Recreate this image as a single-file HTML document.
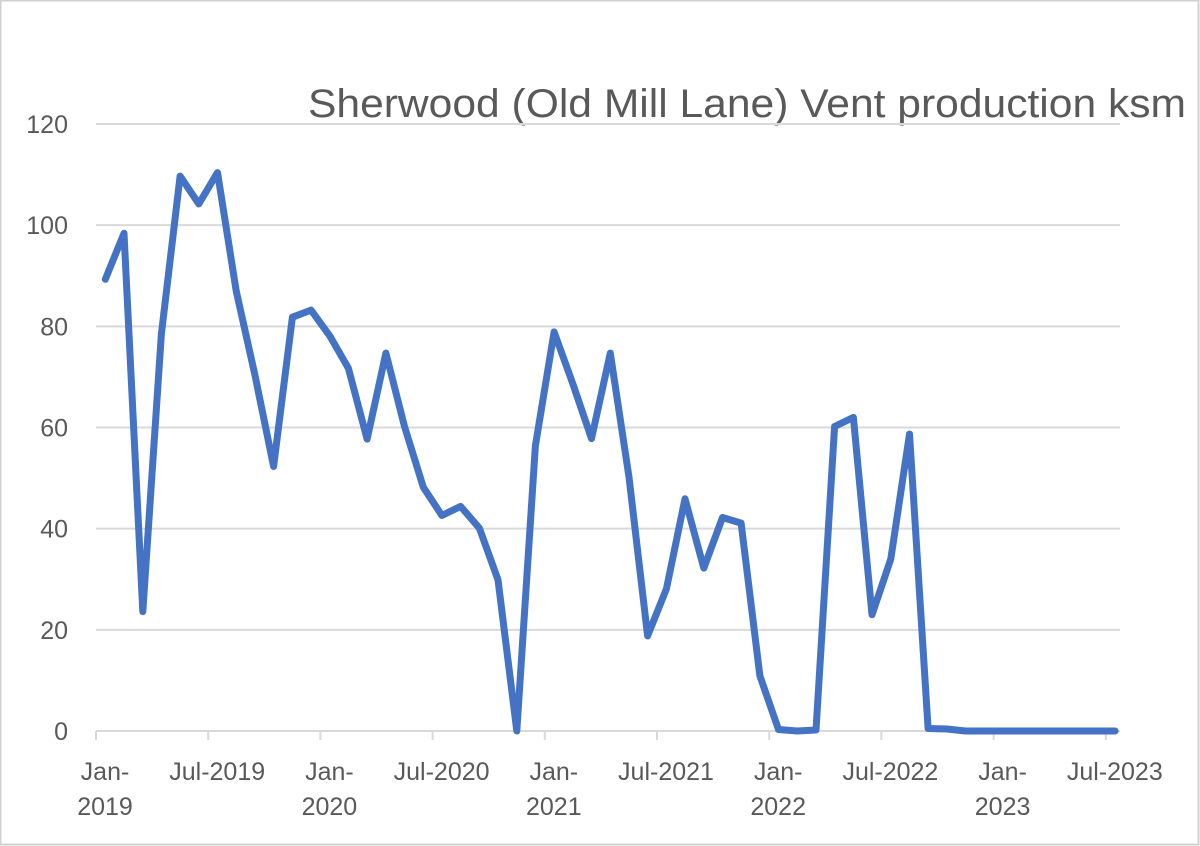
<!DOCTYPE html>
<html><head><meta charset="utf-8">
<style>
html,body{margin:0;padding:0;background:#fff;}
svg{display:block;font-family:"Liberation Sans",sans-serif;}
</style></head>
<body>
<svg id="chart" width="1200" height="846" viewBox="0 0 1200 846" xmlns="http://www.w3.org/2000/svg">
<rect x="0.5" y="0.5" width="1198" height="844" fill="#fff" stroke="#d0d0d0" stroke-width="2"/>
<text x="1186" y="117" text-anchor="end" font-size="40" fill="#595959" textLength="878" lengthAdjust="spacingAndGlyphs">Sherwood (Old Mill Lane) Vent production ksm</text>
<g id="grid"></g>
<g id="yticks"></g>
<g id="xticks"></g>
<path id="series" fill="none" stroke="#4472c4" stroke-width="7" stroke-linejoin="round" stroke-linecap="round"/>
</svg>
<script>
const values = [89.3,98.4,23.6,78.5,109.7,104.2,110.4,86.9,70.4,52.3,81.8,83.2,78.1,71.7,57.7,74.7,60.2,48.2,42.6,44.4,40.1,29.9,0,56.4,78.9,68.6,57.8,74.7,50.2,18.8,28.1,45.9,32.2,42.2,41.1,10.9,0.3,0,0.2,60.2,62.0,23.0,34.0,58.7,0.5,0.4,0,0,0,0,0,0,0,0,0];
const yTicks = [0,20,40,60,80,100,120];
const xTickLabels = [["Jan-","2019"],["Jul-2019"],["Jan-","2020"],["Jul-2020"],["Jan-","2021"],["Jul-2021"],["Jan-","2022"],["Jul-2022"],["Jan-","2023"],["Jul-2023"]];
const monthsPerTick = 6;

const NS="http://www.w3.org/2000/svg";
const x0=96, step=18.7, yBase=731, yTop=124, yMax=120;
const n=values.length;
const xEnd=1120;
function xPos(i){return x0+step/2+i*step;}
function xBoundary(k){return x0+k*step;}
function yPos(v){return yBase-(v/yMax)*(yBase-yTop);}

const grid=document.getElementById('grid');
const yt=document.getElementById('yticks');
yTicks.forEach(t=>{
  const l=document.createElementNS(NS,'line');
  
  
  l.setAttribute('x1',x0);l.setAttribute('x2',xEnd);
  l.setAttribute('y1',yPos(t));l.setAttribute('y2',yPos(t));
  l.setAttribute('stroke','#d9d9d9');l.setAttribute('stroke-width','2');
  grid.appendChild(l);
  const tx=document.createElementNS(NS,'text');
  
  
  tx.setAttribute('x',68);tx.setAttribute('y',yPos(t)+9);
  tx.setAttribute('text-anchor','end');tx.setAttribute('font-size','25');tx.setAttribute('fill','#595959');
  tx.textContent=t;
  yt.appendChild(tx);
});
const xt=document.getElementById('xticks');
xTickLabels.forEach((lab,k)=>{
  const x=xBoundary(k*monthsPerTick);
  const tk=document.createElementNS(NS,'line');
  
  
  tk.setAttribute('x1',x);tk.setAttribute('x2',x);tk.setAttribute('y1',yBase);tk.setAttribute('y2',yBase+9);
  tk.setAttribute('stroke','#d9d9d9');tk.setAttribute('stroke-width','2');
  xt.appendChild(tk);
  lab.forEach((s,j)=>{
    const tx=document.createElementNS(NS,'text');
    
    
    tx.setAttribute('x',x+9);tx.setAttribute('y',780+j*35);
    tx.setAttribute('text-anchor','middle');tx.setAttribute('font-size','25');tx.setAttribute('fill','#595959');
    tx.textContent=s;
    xt.appendChild(tx);
  });
});
let d='';
values.forEach((v,i)=>{d+=(i?'L':'M')+xPos(i).toFixed(1)+' '+yPos(v).toFixed(1);});
document.getElementById('series').setAttribute('d',d);
</script>
</body></html>
